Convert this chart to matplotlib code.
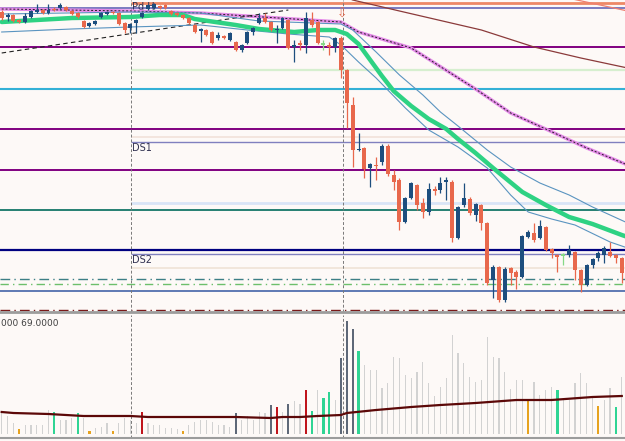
import numpy as np
import matplotlib
matplotlib.use("Agg")
import matplotlib.pyplot as plt

plt.rcParams['font.family'] = ['DejaVu Sans']

# --- candles (bar 0 .. 106) ---
opens = [1.1300, 1.1295, 1.1297, 1.1292, 1.1290, 1.1295, 1.1300, 1.1302, 1.1299, 1.1303,
         1.1304, 1.1305, 1.1301, 1.1299, 1.1291, 1.1286, 1.1288, 1.1295, 1.1298, 1.1300,
         1.1299, 1.1289, 1.1284, 1.1289, 1.1295, 1.1303, 1.1304, 1.1306, 1.1307, 1.1301,
         1.1299, 1.1297, 1.1294, 1.1287, 1.1281, 1.1282, 1.1280, 1.1274, 1.1276, 1.1272,
         1.1270, 1.1262, 1.1269, 1.1280, 1.1289, 1.1294, 1.1290, 1.1282, 1.1284, 1.1292,
         1.1265, 1.1269, 1.1267, 1.1292, 1.1290, 1.1267, 1.1267, 1.1265, 1.1274, 1.1242,
         1.1207, 1.1162, 1.1164, 1.1144, 1.1147, 1.1150, 1.1166, 1.1137, 1.1132, 1.1090,
         1.1114, 1.1127, 1.1109, 1.1100, 1.1123, 1.1122, 1.1130, 1.1130, 1.1074, 1.1107,
         1.1113, 1.1097, 1.1107, 1.1089, 1.1032, 1.1045, 1.1012, 1.1044, 1.1040, 1.1035,
         1.1075, 1.1079, 1.1074, 1.1085, 1.1063, 1.1057, 1.1056, 1.1057, 1.1060, 1.1042,
         1.1027, 1.1047, 1.1054, 1.1057, 1.1060, 1.1057, 1.1054]
highs = [1.1302, 1.1299, 1.1298, 1.1293, 1.1299, 1.1302, 1.1308, 1.1303, 1.1308, 1.1305,
         1.1309, 1.1306, 1.1302, 1.1300, 1.1292, 1.1290, 1.1292, 1.1300, 1.1301, 1.1301,
         1.1300, 1.1290, 1.1289, 1.1293, 1.1300, 1.1308, 1.1309, 1.1307, 1.1308, 1.1302,
         1.1300, 1.1298, 1.1295, 1.1288, 1.1284, 1.1283, 1.1281, 1.1280, 1.1277, 1.1280,
         1.1271, 1.1268, 1.1281, 1.1285, 1.1299, 1.1299, 1.1291, 1.1287, 1.1295, 1.1293,
         1.1272, 1.1272, 1.1300, 1.1300, 1.1291, 1.1272, 1.1270, 1.1275, 1.1276, 1.1243,
         1.1215, 1.1179, 1.1165, 1.1149, 1.1155, 1.1168, 1.1168, 1.1142, 1.1134, 1.1115,
         1.1130, 1.1128, 1.1114, 1.1129, 1.1126, 1.1135, 1.1135, 1.1132, 1.1106, 1.1129,
         1.1115, 1.1109, 1.1108, 1.1090, 1.1047, 1.1046, 1.1045, 1.1045, 1.1042, 1.1077,
         1.1082, 1.1089, 1.1092, 1.1086, 1.1064, 1.1058, 1.1059, 1.1067, 1.1061, 1.1043,
         1.1048, 1.1054, 1.1061, 1.1066, 1.1070, 1.1058, 1.1055]
lows = [1.1292, 1.1291, 1.1290, 1.1289, 1.1289, 1.1294, 1.1299, 1.1298, 1.1298, 1.1301,
        1.1303, 1.1301, 1.1297, 1.1294, 1.1284, 1.1285, 1.1287, 1.1294, 1.1297, 1.1298,
        1.1287, 1.1279, 1.1279, 1.1279, 1.1294, 1.1302, 1.1303, 1.1303, 1.1303, 1.1297,
        1.1296, 1.1293, 1.1288, 1.1279, 1.1270, 1.1276, 1.1268, 1.1272, 1.1273, 1.1271,
        1.1261, 1.1260, 1.1268, 1.1277, 1.1288, 1.1289, 1.1281, 1.1269, 1.1283, 1.1263,
        1.1250, 1.1262, 1.1259, 1.1285, 1.1268, 1.1262, 1.1257, 1.1260, 1.1234, 1.1184,
        1.1145, 1.1161, 1.1134, 1.1125, 1.1132, 1.1147, 1.1136, 1.1122, 1.1082, 1.1089,
        1.1113, 1.1102, 1.1094, 1.1097, 1.1117, 1.1119, 1.1112, 1.1070, 1.1073, 1.1105,
        1.1097, 1.1091, 1.1082, 1.1027, 1.1014, 1.1010, 1.1010, 1.1027, 1.1023, 1.1034,
        1.1074, 1.1070, 1.1073, 1.1061, 1.1054, 1.1040, 1.1047, 1.1055, 1.1032, 1.1020,
        1.1026, 1.1044, 1.1051, 1.1049, 1.1055, 1.1049, 1.1029]
closes = [1.1294, 1.1297, 1.1291, 1.1290, 1.1296, 1.1301, 1.1302, 1.1299, 1.1302, 1.1302,
          1.1307, 1.1302, 1.1298, 1.1295, 1.1285, 1.1289, 1.1291, 1.1299, 1.1300, 1.1299,
          1.1288, 1.1282, 1.1288, 1.1292, 1.1299, 1.1307, 1.1308, 1.1304, 1.1304, 1.1298,
          1.1297, 1.1294, 1.1289, 1.1280, 1.1283, 1.1277, 1.1269, 1.1277, 1.1274, 1.1279,
          1.1262, 1.1267, 1.1280, 1.1284, 1.1294, 1.1290, 1.1282, 1.1283, 1.1294, 1.1264,
          1.1267, 1.1267, 1.1294, 1.1287, 1.1269, 1.1269, 1.1265, 1.1274, 1.1242, 1.1209,
          1.1162, 1.1163, 1.1143, 1.1148, 1.1146, 1.1166, 1.1138, 1.1130, 1.1090, 1.1114,
          1.1129, 1.1107, 1.1100, 1.1123, 1.1121, 1.1129, 1.1132, 1.1074, 1.1105, 1.1114,
          1.1099, 1.1108, 1.1089, 1.1029, 1.1045, 1.1012, 1.1043, 1.1039, 1.1035, 1.1076,
          1.1080, 1.1072, 1.1086, 1.1062, 1.1059, 1.1055, 1.1058, 1.1062, 1.1042, 1.1027,
          1.1047, 1.1053, 1.1059, 1.1064, 1.1056, 1.1054, 1.1039]
green_dojis = [55, 96]

# --- moving averages / bands (bar index, price) ---
ma_fast_x = [0, 6, 12, 22, 27, 31, 33, 40, 44, 50, 54, 57, 59, 61, 63, 65, 67, 70, 73,
             76, 78, 81, 84, 89, 93, 97, 101, 106, 107]
ma_fast_y = [1.1290, 1.1292, 1.1294, 1.1295, 1.1297, 1.1297, 1.1293, 1.1287, 1.1283,
             1.1280, 1.1282, 1.1282, 1.1278, 1.1268, 1.1252, 1.1236, 1.1221, 1.1206,
             1.1193, 1.1183, 1.1173, 1.1159, 1.1144, 1.1120, 1.1107, 1.1095, 1.1088,
             1.1077, 1.1075]
band_up_x = [0, 22, 34, 44, 58, 60, 64, 68, 72, 75, 78, 83, 87, 92, 97, 101, 107]
band_up_y = [1.1298, 1.1300, 1.1299, 1.1291, 1.1288, 1.1282, 1.1260, 1.1237, 1.1217,
             1.1200, 1.1186, 1.1162, 1.1145, 1.1129, 1.1117, 1.1105, 1.1089]
band_dn_x = [0, 12, 22, 34, 42, 49, 56, 58, 61, 64, 69, 73, 78, 83, 87, 90, 94, 98, 104, 107]
band_dn_y = [1.1280, 1.1283, 1.1285, 1.1287, 1.1282, 1.1278, 1.1275, 1.1267, 1.1250,
             1.1234, 1.1204, 1.1182, 1.1165, 1.1144, 1.1117, 1.1100, 1.1093, 1.1087,
             1.1070, 1.1064]
ma_mid_x = [0, 22, 34, 58, 61, 70, 81, 87, 93, 100, 107]
ma_mid_y = [1.1303, 1.1301, 1.1299, 1.1290, 1.1280, 1.1264, 1.1223, 1.1199, 1.1183,
            1.1164, 1.1147]
ma_slow_x = [55, 60, 68, 82, 91, 99, 107]
ma_slow_y = [1.1325, 1.1312, 1.1301, 1.1282, 1.1265, 1.1254, 1.1244]
ma_slow2_x = [96, 107]
ma_slow2_y = [1.1315, 1.1301]
trend_x = [0, 49]
trend_y = [1.1259, 1.1302]

# --- horizontal levels ---
levels = [1.1309, 1.1304, 1.1265, 1.1242, 1.1223, 1.1183, 1.1175, 1.1170, 1.1142,
          1.1109, 1.1102, 1.1062, 1.1058, 1.1044, 1.1033, 1.1028, 1.1021, 1.1002]
level_today = [True, False, False, True, False, False, True, True, False,
               True, False, False, True, True, False, False, False, False]
level_style = [('#ee8866', 2.0, '-'), ('#7b7bc0', 1.4, '-'), ('#800080', 1.4, '-'),
               ('#d6efcf', 1.6, '-'), ('#33b0d6', 1.5, '-'), ('#800080', 1.4, '-'),
               ('#f1e2da', 1.2, '-'), ('#8080bf', 1.0, '-'), ('#800080', 1.4, '-'),
               ('#d9e4f6', 2.0, '-'), ('#006b5c', 1.2, '-'), ('#000080', 1.6, '-'),
               ('#8080bf', 1.0, '-'), ('#efe3d6', 1.2, '-'),
               ('#3d7f86', 1.0, (0, (7, 3, 1, 3))), ('#6cbf6c', 1.0, (0, (6, 3, 1, 3))),
               ('#4464a8', 1.2, '-'), ('#7a1a1a', 1.0, (0, (7, 3, 1, 3)))]
labels = {'Pd H': 1.1305, 'DS1': 1.1164, 'DS2': 1.1052}
day_breaks = [22.1, 58.3]
signal_bar = 58.2
signal_price = 1.1298

# --- volume ---
volume = [22, 18, 11, 5, 9, 9, 9, 9, 24, 22, 14, 14, 16, 21, 16, 3, 6, 7, 11, 3,
          11, 16, 14, 11, 22, 11, 9, 9, 6, 6, 5, 3, 9, 12, 14, 14, 12, 9, 9, 7,
          21, 14, 18, 14, 22, 21, 29, 27, 22, 30, 33, 30, 44, 23, 44, 36, 42, 34, 76, 113,
          105, 83, 69, 64, 64, 46, 51, 77, 76, 59, 56, 62, 72, 51, 38, 47, 56, 99, 81, 71,
          57, 52, 54, 97, 77, 76, 62, 45, 54, 54, 34, 52, 39, 44, 47, 44, 36, 34, 51, 61,
          51, 37, 28, 34, 46, 27, 57]
vol_kind = ("nnnonnnnng" "nnngnonnno" "nnnnrnnnnn" "nonnnnnnnn" "dnnnnndrnd"
            "nnrgnggndd" "dgnnnnnnnn" "nnnnnnnnnn" "nnnnnnnnnn" "onnnngnnnn" "nnonngn")
vol_ma_x = [0, 2, 8, 14, 22, 25, 40, 46, 48, 51, 54, 58, 59, 64, 70, 75, 81, 88, 94, 101, 106]
vol_ma_y = [22, 21, 20, 18, 18, 17, 17, 16, 17, 17, 18, 19, 21, 24, 27, 29, 31, 34, 34, 37, 38]

bg = '#fdf9f7'
fig = plt.figure(figsize=(6.25, 4.41), dpi=100, facecolor=bg)
ax = fig.add_axes([0, 129 / 441, 1, 312 / 441], facecolor=bg)
axv = fig.add_axes([0, 3 / 441, 1, 123 / 441], facecolor=bg)

x = np.arange(len(opens))
xlim = (-0.29, 106.55)

# levels
for lv, today, (col, lw, ls) in zip(levels, level_today, level_style):
    if today:
        ax.hlines(lv, day_breaks[0], xlim[1] + 1, colors=col, linewidth=lw, linestyles=ls, zorder=1)
    else:
        ax.axhline(lv, color=col, linewidth=lw, linestyle=ls, zorder=1)

for txt, yv in labels.items():
    ax.text(day_breaks[0] + 0.25, yv, txt, fontsize=7, color='#303050', va='center', ha='left', zorder=2)

for db in day_breaks:
    ax.axvline(db, color='#7a7a7a', linewidth=0.7, linestyle=(0, (3, 2)), zorder=1)
    axv.axvline(db, color='#7a7a7a', linewidth=0.7, linestyle=(0, (3, 2)), zorder=1)

# indicator lines
ax.plot(ma_slow_x, ma_slow_y, color='#8b3a3a', linewidth=0.9, zorder=3)
ax.plot(ma_slow2_x, ma_slow2_y, color='#ef8070', linewidth=0.9, zorder=3)
ax.plot(ma_mid_x, ma_mid_y, color='#e48ae8', linewidth=2.4, zorder=3)
ax.plot(ma_mid_x, ma_mid_y, color='#222222', linewidth=0.7, linestyle=(0, (2, 2)), zorder=3)
ax.plot(trend_x, trend_y, color='#222222', linewidth=0.8, linestyle=(0, (4, 3)), zorder=3)
ax.plot(band_up_x, band_up_y, color='#5a94c0', linewidth=0.8, zorder=3)
ax.plot(band_dn_x, band_dn_y, color='#5a94c0', linewidth=0.8, zorder=3)
ax.plot(ma_fast_x, ma_fast_y, color='#2ed283', linewidth=3.2, zorder=3, solid_capstyle='round')

# candles
bull, bear, doji = '#1d4e7e', '#e8684c', '#86d986'
for i in x:
    o, h, l, c = opens[i], highs[i], lows[i], closes[i]
    if i in green_dojis:
        col = doji
    elif c >= o:
        col = bull
    else:
        col = bear
    ax.vlines(i, l, h, color=col, linewidth=0.9, zorder=4)
    body = max(abs(c - o), 0.00012)
    ax.bar(i, body, bottom=min(o, c), width=0.68, color=col, linewidth=0, zorder=5)

ax.text(signal_bar, signal_price, '\u21e9', color='#e46a4e', fontsize=9,
        ha='center', va='center', zorder=6)

ax.set_xlim(*xlim)
ax.set_ylim(1.1000, 1.1312)
ax.set_xticks([])
ax.set_yticks([])
for s in ['top', 'left', 'right']:
    ax.spines[s].set_visible(False)
ax.spines['bottom'].set_color('#9c9c9c')
ax.spines['bottom'].set_linewidth(2)

# volume panel
vcols = {'n': '#d2d2d2', 'o': '#e6a21e', 'g': '#2fd494', 'r': '#c0141c', 'd': '#5e6878'}
vwid = {'n': 0.2, 'o': 0.38, 'g': 0.38, 'r': 0.38, 'd': 0.38}
for i in x:
    k = vol_kind[i]
    axv.bar(i, volume[i], width=vwid[k], color=vcols[k], linewidth=0, zorder=2)
axv.plot(vol_ma_x, vol_ma_y, color='#5c0808', linewidth=1.6, zorder=3)
axv.text(0.002, 0.965, '000 69.0000', transform=axv.transAxes, fontsize=6.5,
         color='#404040', va='top', ha='left')
axv.set_xlim(*xlim)
axv.set_ylim(-4, 119)
axv.set_xticks([])
axv.set_yticks([])
for s in ['top', 'left', 'right']:
    axv.spines[s].set_visible(False)
axv.spines['bottom'].set_color('#9c9c9c')
axv.spines['bottom'].set_linewidth(1.5)

fig.savefig('out.png', dpi=100, facecolor=bg)
